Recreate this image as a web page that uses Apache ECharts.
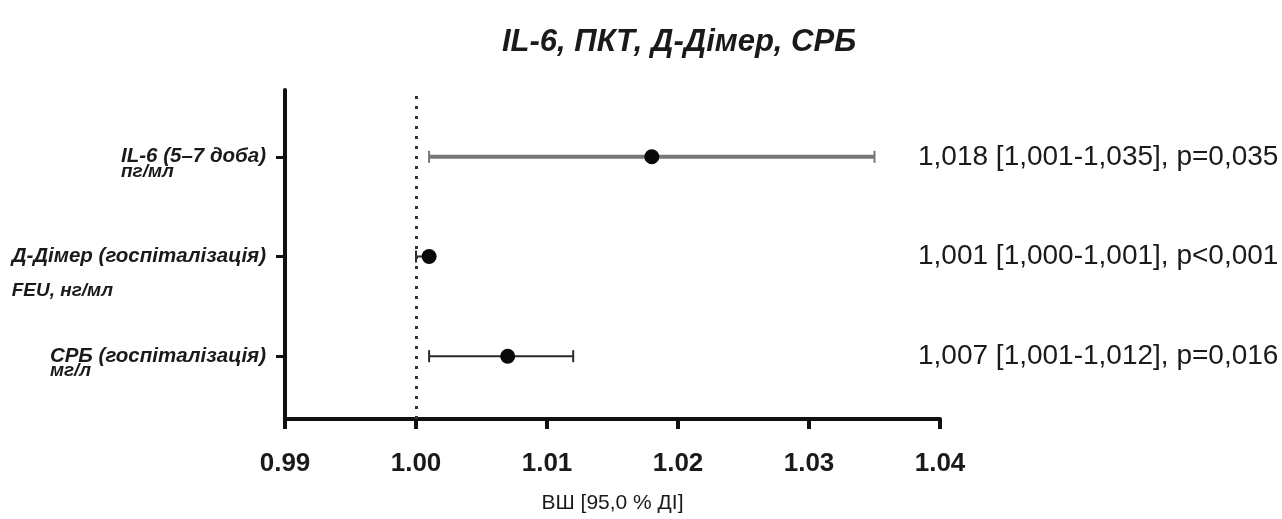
<!DOCTYPE html>
<html>
<head>
<meta charset="utf-8">
<script src="https://cdn.jsdelivr.net/npm/echarts@6/dist/echarts.min.js"></script>
<style>
  html, body { margin: 0; padding: 0; background: #fff; }
  #chart { width: 1282px; height: 519px; }
</style>
</head>
<body>
<div id="chart"></div>
<script>
// rows from top to bottom, row position on the y axis
const rowNames = ['IL-6 (5–7 доба)', 'Д-Дімер (госпіталізація)', 'СРБ (госпіталізація)'];
const rowUnits = ['пг/мл', 'FEU, нг/мл', 'мг/л'];
const rowPos = [3, 2, 1];
const oddsRatio = [1.018, 1.001, 1.007];
const ciLow = [1.001, 1.000, 1.001];
const ciHigh = [1.035, 1.001, 1.012];
const resultText = [
  '1,018 [1,001-1,035], p=0,035',
  '1,001 [1,000-1,001], p<0,001',
  '1,007 [1,001-1,012], p=0,016',
];
const xTicks = [0.99, 1.00, 1.01, 1.02, 1.03, 1.04];

const barColors = ['#777777', '#2a2a2a', '#2a2a2a'];
const barWidths = [4, 2, 2];

const chart = echarts.init(document.getElementById('chart'));

const rowIndex = (v) => rowPos.indexOf(Math.round(v));

const option = {
  animation: false,
  title: {
    text: 'IL-6, ПКТ, Д-Дімер, СРБ',
    left: 497,
    top: 22,
    textStyle: {
      fontFamily: 'Liberation Sans',
      fontStyle: 'italic',
      fontWeight: 'bold',
      fontSize: 31,
      color: '#1a1a1a',
    },
  },
  grid: {
    left: 285,
    right: 342,
    top: 90,
    bottom: 99,
    containLabel: false,
  },
  xAxis: {
    type: 'value',
    min: xTicks[0],
    max: xTicks[xTicks.length - 1],
    interval: 0.01,
    name: 'ВШ [95,0 % ДІ]',
    nameLocation: 'middle',
    nameGap: 74,
    nameTextStyle: {
      fontFamily: 'Liberation Sans',
      fontSize: 21,
      color: '#1a1a1a',
    },
    axisLine: { lineStyle: { color: '#111', width: 4 } },
    axisTick: { length: 10, lineStyle: { color: '#111', width: 4 } },
    splitLine: { show: false },
    axisLabel: {
      margin: 32,
      fontFamily: 'Liberation Sans',
      fontWeight: 'bold',
      fontSize: 26,
      color: '#1a1a1a',
      formatter: (v) => v.toFixed(2),
    },
  },
  yAxis: [
    {
      type: 'value',
      min: 0.37,
      max: 3.67,
      axisLine: { show: true, lineStyle: { color: '#111', width: 4 } },
      axisTick: {
        show: true,
        length: 9,
        customValues: rowPos,
        lineStyle: { color: '#111', width: 3 },
      },
      splitLine: { show: false },
      axisLabel: {
        margin: 19,
        customValues: rowPos,
        formatter: (v) => {
          const i = rowIndex(v);
          const wide = i === 1;
          const s = wide ? 's2' : 's';
          const u = wide ? 'u2' : 'u';
          return `{${s}| }\n{a|${rowNames[i]}}\n{${u}|${rowUnits[i]}}`;
        },
        rich: {
          a: {
            align: 'left', lineHeight: 16, fontFamily: 'Liberation Sans',
            fontStyle: 'italic', fontWeight: 'bold', fontSize: 20.5, color: '#1a1a1a',
          },
          u: {
            align: 'left', lineHeight: 14, fontFamily: 'Liberation Sans',
            fontStyle: 'italic', fontWeight: 'bold', fontSize: 19, color: '#1a1a1a',
          },
          s: { align: 'left', lineHeight: 14, fontSize: 10 },
          u2: {
            align: 'left', lineHeight: 52, fontFamily: 'Liberation Sans',
            fontStyle: 'italic', fontWeight: 'bold', fontSize: 19, color: '#1a1a1a',
          },
          s2: { align: 'left', lineHeight: 52, fontSize: 10 },
        },
      },
    },
    {
      type: 'value',
      position: 'right',
      min: 0.37,
      max: 3.67,
      axisLine: { show: false },
      axisTick: { show: false },
      splitLine: { show: false },
      axisLabel: {
        margin: -22,
        customValues: rowPos,
        fontFamily: 'Liberation Sans',
        fontSize: 28,
        color: '#1a1a1a',
        formatter: (v) => resultText[rowIndex(v)],
      },
    },
  ],
  series: [
    {
      type: 'custom',
      xAxisIndex: 0,
      yAxisIndex: 0,
      data: rowPos.map((p, i) => [ciLow[i], ciHigh[i], p]),
      encode: { x: [0, 1], y: 2 },
      renderItem: (params, api) => {
        const i = params.dataIndex;
        const lo = api.coord([api.value(0), api.value(2)]);
        const hi = api.coord([api.value(1), api.value(2)]);
        const cap = 6;
        const style = { stroke: barColors[i], lineWidth: barWidths[i] };
        const capStyle = { stroke: barColors[i], lineWidth: 2 };
        return {
          type: 'group',
          children: [
            { type: 'line', shape: { x1: lo[0], y1: lo[1], x2: hi[0], y2: hi[1] }, style },
            { type: 'line', shape: { x1: lo[0], y1: lo[1] - cap, x2: lo[0], y2: lo[1] + cap }, style: capStyle },
            { type: 'line', shape: { x1: hi[0], y1: hi[1] - cap, x2: hi[0], y2: hi[1] + cap }, style: capStyle },
          ],
        };
      },
      z: 2,
    },
    {
      type: 'scatter',
      xAxisIndex: 0,
      yAxisIndex: 0,
      data: rowPos.map((p, i) => [oddsRatio[i], p]),
      symbol: 'circle',
      symbolSize: 15,
      itemStyle: { color: '#0a0a0a', opacity: 1 },
      z: 3,
      markLine: {
        silent: true,
        symbol: 'none',
        label: { show: false },
        lineStyle: { color: '#333', width: 3, type: [3, 7] },
        data: [{ xAxis: 1.0 }],
      },
    },
  ],
};

chart.setOption(option);
</script>
</body>
</html>
